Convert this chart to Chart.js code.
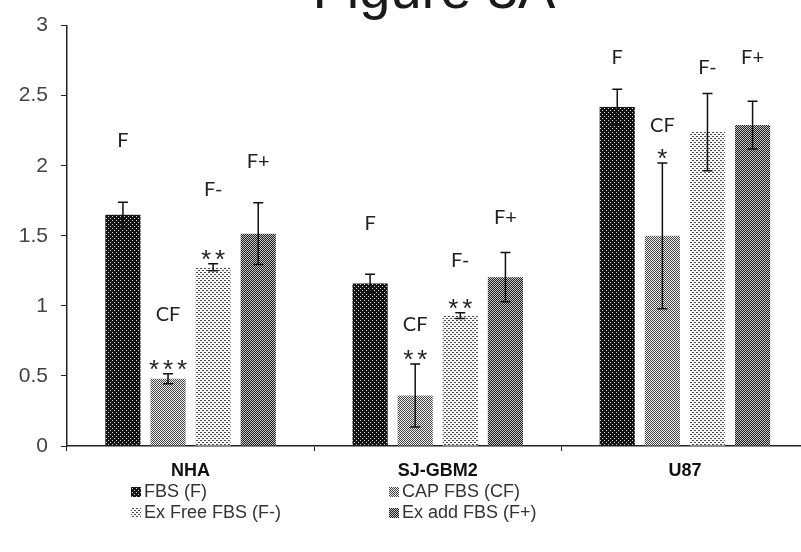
<!DOCTYPE html>
<html>
<head>
<meta charset="utf-8">
<script src="https://cdn.jsdelivr.net/npm/chart.js@4.4.1/dist/chart.umd.min.js"></script>
<style>
  html, body { margin: 0; padding: 0; background: #fff; overflow: hidden; }
  #wrap { width: 801px; height: 552px; overflow: hidden; position: relative; }
</style>
</head>
<body>
<div id="wrap"><canvas id="c" width="809" height="552"></canvas></div>
<script>
// Cell lines on the category axis
const categories = ['NHA', 'SJ-GBM2', 'U87'];

// Serum conditions
const seriesNames = ['FBS (F)', 'CAP FBS (CF)', 'Ex Free FBS (F-)', 'Ex add FBS (F+)'];
const seriesTags = ['F', 'CF', 'F-', 'F+'];

// Mean values per cell line
const fbs    = [1.65, 1.16, 2.42];
const capFbs = [0.48, 0.36, 1.50];
const exFree = [1.275, 0.93, 2.24];
const exAdd  = [1.515, 1.205, 2.29];

// Error (± one side) per cell line
const fbsErr    = [0.09, 0.065, 0.125];
const capFbsErr = [0.035, 0.225, 0.52];
const exFreeErr = [0.025, 0.02, 0.275];
const exAddErr  = [0.22, 0.175, 0.17];

// Significance marks per cell line
const fbsSig    = ['', '', ''];
const capFbsSig = ['***', '**', '*'];
const exFreeSig = ['**', '**', ''];
const exAddSig  = ['', '', ''];

// Value-axis level where each condition tag sits
const fbsTagLevel    = [2.18, 1.585, 2.77];
const capFbsTagLevel = [0.94, 0.87, 2.29];
const exFreeTagLevel = [1.83, 1.32, 2.70];
const exAddTagLevel  = [2.03, 1.63, 2.77];

// Y axis ticks
const yTicks = [0, 0.5, 1, 1.5, 2, 2.5, 3];

const canvas = document.getElementById('c');
const ctx = canvas.getContext('2d');

// Halftone-like fills for the bars
function makePattern(bg, fg, pts, n) {
  const t = document.createElement('canvas');
  t.width = n; t.height = n;
  const g = t.getContext('2d');
  g.fillStyle = bg; g.fillRect(0, 0, n, n);
  g.fillStyle = fg;
  pts.forEach(p => g.fillRect(p[0], p[1], 1, 1));
  return ctx.createPattern(t, 'repeat');
}
const fills = [
  makePattern('#141414', '#d8d8d8', [[0, 0], [2, 2]], 4),
  makePattern('#efefef', '#444444', [[0, 0], [1, 1]], 2),
  makePattern('#f6f6f6', '#4a4a4a', [[0, 0], [1, 0], [2, 2], [3, 2]], 4),
  makePattern('#1c1c1c', '#c8c8c8', [[0, 0], [1, 1]], 2)
];

const values = [fbs, capFbs, exFree, exAdd];
const errors = [fbsErr, capFbsErr, exFreeErr, exAddErr];
const sigs = [fbsSig, capFbsSig, exFreeSig, exAddSig];
const tagLevels = [fbsTagLevel, capFbsTagLevel, exFreeTagLevel, exAddTagLevel];

const FONT = '"Liberation Sans", Arial, sans-serif';

const overlay = {
  id: 'overlay',
  afterDatasetsDraw(chart) {
    const c = chart.ctx;
    const y = chart.scales.y;
    c.save();
    chart.data.datasets.forEach((ds, di) => {
      const meta = chart.getDatasetMeta(di);
      meta.data.forEach((bar, i) => {
        const v = ds.data[i];
        const e = errors[di][i];
        const top = y.getPixelForValue(v + e);
        const bot = y.getPixelForValue(v - e);
        // error bar
        c.strokeStyle = '#111';
        c.lineWidth = 1.5;
        c.beginPath();
        c.moveTo(bar.x, top); c.lineTo(bar.x, bot);
        c.moveTo(bar.x - 5, top); c.lineTo(bar.x + 5, top);
        c.moveTo(bar.x - 5, bot); c.lineTo(bar.x + 5, bot);
        c.stroke();
        // significance stars
        const s = sigs[di][i];
        if (s) {
          c.fillStyle = '#222';
          c.font = '26px ' + FONT;
          c.textAlign = 'center';
          c.textBaseline = 'alphabetic';
          for (let k = 0; k < s.length; k++) {
            const sx = bar.x + (k - (s.length - 1) / 2) * 14;
            c.fillText('*', sx, top + 4);
          }
        }
        // condition tag
        c.fillStyle = '#222';
        c.font = '20px Lato, ' + FONT;
        c.textAlign = 'center';
        c.textBaseline = 'middle';
        c.fillText(seriesTags[di], bar.x, y.getPixelForValue(tagLevels[di][i]));
      });
    });

    // heading, partly above the top edge
    c.fillStyle = '#1a1a1a';
    c.font = '56px ' + FONT;
    c.textAlign = 'center';
    c.textBaseline = 'alphabetic';
    c.fillText('Figure 3A', 434, 8);

    // legend in two columns
    const cols = [131, 389];
    const rows = [492, 513];
    const order = [[0, 0, 0], [1, 1, 0], [2, 0, 1], [3, 1, 1]];
    c.font = '18px ' + FONT;
    c.textAlign = 'left';
    c.textBaseline = 'middle';
    order.forEach(([di, col, row]) => {
      const lx = cols[col], ly = rows[row];
      c.fillStyle = fills[di];
      c.fillRect(lx, ly - 5, 10, 10);
      c.fillStyle = '#333';
      c.fillText(seriesNames[di], lx + 13, ly);
    });
    c.restore();
  }
};

new Chart(ctx, {
  type: 'bar',
  data: {
    labels: categories,
    datasets: values.map((d, i) => ({
      label: seriesNames[i],
      data: d,
      backgroundColor: fills[i],
      borderWidth: 0,
      categoryPercentage: 0.73,
      barPercentage: 0.78
    }))
  },
  options: {
    responsive: false,
    devicePixelRatio: 1,
    animation: false,
    events: [],
    layout: { padding: { top: 22, right: 0.5, left: 0, bottom: 0 } },
    plugins: { legend: { display: false }, tooltip: { enabled: false } },
    scales: {
      x: {
        grid: { display: true, drawOnChartArea: false, drawTicks: true, tickLength: 5, color: '#222', offset: true },
        border: { display: true, color: '#222', width: 1.5 },
        ticks: { font: { family: FONT, size: 18, weight: 'bold' }, color: '#111', padding: 9 },
        afterFit(s) { s.height = 106; }
      },
      y: {
        min: 0,
        max: 3,
        afterBuildTicks(s) { s.ticks = yTicks.map(v => ({ value: v })); },
        grid: { display: true, drawOnChartArea: false, drawTicks: true, tickLength: 6, color: '#222' },
        border: { display: true, color: '#222', width: 1.5 },
        ticks: { font: { family: FONT, size: 21 }, color: '#444', padding: 13, callback: v => String(v) },
        afterFit(s) { s.width = 67; }
      }
    }
  },
  plugins: [overlay]
});
</script>
</body>
</html>
